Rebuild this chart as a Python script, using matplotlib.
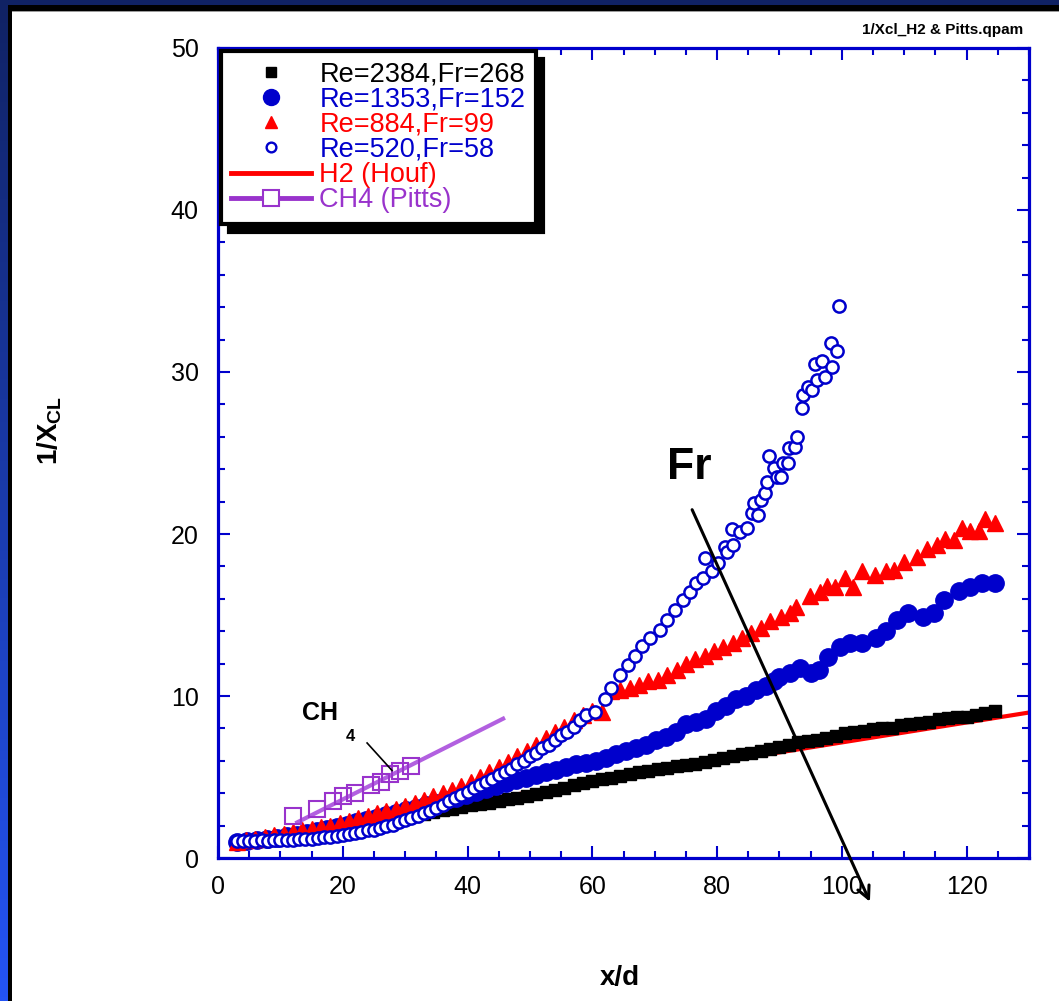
import numpy as np
import matplotlib
matplotlib.use('Agg')
import matplotlib.pyplot as plt
from matplotlib.patches import Rectangle
from matplotlib.lines import Line2D
from matplotlib.ticker import MultipleLocator

plt.rcParams['font.family'] = ['Liberation Sans', 'DejaVu Sans']
plt.rcParams['mathtext.fontset'] = 'custom'
plt.rcParams['mathtext.bf'] = 'Liberation Sans:bold'
plt.rcParams['mathtext.rm'] = 'Liberation Sans:bold'
plt.rcParams['mathtext.default'] = 'bf'

# ---------------- data ----------------
re2384_x = [3.0, 4.5, 6.0, 7.5, 9.0, 10.5, 12.0, 13.5, 15.0, 16.5, 18.0, 19.5, 21.0, 22.5, 24.0, 25.5,
            27.0, 28.5, 30.0, 31.5, 33.0, 34.5, 36.0, 37.5, 39.0, 40.5, 42.0, 43.5, 45.0, 46.5, 48.0,
            49.5, 51.0, 52.5, 54.0, 55.5, 57.0, 58.5, 60.0, 61.5, 63.0, 64.5, 66.0, 67.5, 69.0, 70.5,
            72.0, 73.5, 75.0, 76.5, 78.0, 79.5, 81.0, 82.5, 84.0, 85.5, 87.0, 88.5, 90.0, 91.5, 93.0,
            94.5, 96.0, 97.5, 99.0, 100.5, 102.0, 103.5, 105.0, 106.5, 108.0, 109.5, 111.0, 112.5,
            114.0, 115.5, 117.0, 118.5, 120.0, 121.5, 123.0, 124.5]
re2384_y = [1.00, 1.02, 1.05, 1.08, 1.12, 1.17, 1.22, 1.28, 1.35, 1.42, 1.52, 1.62, 1.75, 1.85, 1.98, 2.10,
            2.22, 2.35, 2.48, 2.60, 2.72, 2.82, 2.95, 3.05, 3.15, 3.25, 3.32, 3.42, 3.50, 3.62, 3.72,
            3.85, 3.95, 4.10, 4.22, 4.35, 4.50, 4.62, 4.78, 4.85, 4.95, 5.05, 5.18, 5.30, 5.40, 5.48,
            5.55, 5.65, 5.75, 5.82, 5.95, 6.05, 6.15, 6.28, 6.40, 6.50, 6.60, 6.75, 6.88, 7.00, 7.15,
            7.22, 7.30, 7.42, 7.55, 7.70, 7.80, 7.85, 7.95, 8.00, 8.05, 8.20, 8.30, 8.35,
            8.40, 8.55, 8.65, 8.70, 8.72, 8.80, 8.95, 9.10]

re1353_x = [3.0, 4.6, 6.2, 7.8, 9.4, 11.0, 12.6, 14.2, 15.8, 17.4, 19.0, 20.6, 22.2, 23.8, 25.4, 27.0,
            28.6, 30.2, 31.8, 33.4, 35.0, 36.6, 38.2, 39.8, 41.4, 43.0, 44.6, 46.2, 47.8, 49.4, 51.0,
            52.6, 54.2, 55.8, 57.4, 59.0, 60.6, 62.2, 63.8, 65.4, 67.0, 68.6, 70.2, 71.8, 73.4, 75.0,
            76.6, 78.2, 79.8, 81.4, 83.0, 84.6, 86.2, 87.8, 89.2, 90.0, 91.7, 93.3, 95.0, 96.3, 97.8,
            99.7, 101.3, 103.2, 105.4, 107.0, 108.9, 110.6, 113.0, 114.7, 116.3, 118.8, 120.5, 122.4, 124.5]
re1353_y = [1.00, 1.05, 1.10, 1.15, 1.25, 1.35, 1.45, 1.55, 1.65, 1.80, 1.90, 2.05, 2.20, 2.35, 2.50, 2.65,
            2.80, 2.95, 3.10, 3.25, 3.40, 3.55, 3.70, 3.90, 4.05, 4.25, 4.45, 4.60, 4.80, 4.95, 5.10,
            5.30, 5.45, 5.60, 5.80, 5.85, 6.00, 6.20, 6.40, 6.60, 6.80, 7.00, 7.30, 7.50, 7.80, 8.30,
            8.40, 8.60, 9.10, 9.40, 9.80, 10.00, 10.40, 10.60, 10.90, 11.20, 11.40, 11.70, 11.40, 11.60, 12.40,
            13.00, 13.30, 13.30, 13.60, 14.00, 14.70, 15.10, 14.90, 15.10, 15.90, 16.50, 16.70, 17.00, 17.00]

re884_x = [3.0, 4.5, 6.0, 7.5, 9.0, 10.5, 12.0, 13.5, 15.0, 16.5, 18.0, 19.5, 21.0, 22.5, 24.0, 25.5,
           27.0, 28.5, 30.0, 31.5, 33.0, 34.5, 36.0, 37.5, 39.0, 40.5, 42.0, 43.5, 45.0, 46.5, 48.0,
           49.5, 51.0, 52.5, 54.0, 55.5, 57.0, 58.5, 60.0, 61.5, 63.0, 64.5, 66.0, 67.5, 69.0, 70.5,
           72.0, 73.5, 75.0, 76.5, 78.0, 79.5, 81.0, 82.5, 84.0, 85.5, 87.0, 88.5, 90.2, 91.7, 92.6,
           94.9, 96.5, 97.6, 98.9, 100.5, 101.8, 103.2, 105.3, 107.0, 108.3, 110.0, 112.0, 113.6,
           115.2, 116.5, 118.0, 119.2, 120.5, 122.0, 123.0, 124.5]
re884_y = [1.00, 1.10, 1.20, 1.30, 1.40, 1.50, 1.60, 1.70, 1.80, 1.90, 2.00, 2.15, 2.30, 2.45, 2.60, 2.75,
           2.90, 3.05, 3.20, 3.40, 3.60, 3.80, 4.00, 4.20, 4.45, 4.70, 5.00, 5.30, 5.60, 5.90, 6.30,
           6.60, 7.00, 7.40, 7.80, 8.10, 8.50, 8.80, 9.10, 9.00, 10.30, 10.40, 10.50, 10.70, 10.90, 11.00,
           11.30, 11.60, 12.00, 12.30, 12.50, 12.80, 13.00, 13.30, 13.60, 13.90, 14.20, 14.60, 14.90, 15.10, 15.50,
           16.20, 16.40, 16.80, 16.70, 17.30, 16.70, 17.70, 17.50, 17.70, 17.80, 18.30, 18.60, 19.10,
           19.30, 19.70, 19.60, 20.40, 20.20, 20.20, 20.90, 20.70]

re520_x = [3, 4, 5, 6, 7, 8, 9, 10, 11, 12, 13, 14, 15, 16, 17, 18, 19, 20, 21, 22, 23, 24, 25, 26, 27,
           28, 29, 30, 31, 32, 33, 34, 35, 36, 37, 38, 39, 40, 41, 42, 43, 44, 45, 46, 47, 48, 49, 50,
           51, 52, 53, 54, 55, 56, 57, 58, 59, 60.4, 62.0, 63.0, 64.4, 65.7, 66.8, 68.0, 69.2, 70.8,
           72.0, 73.2, 74.5, 75.6, 76.6, 77.7, 78.1, 79.2, 80.1, 81.3, 81.6, 82.4, 82.5, 83.7, 84.8,
           85.6, 85.9, 86.5, 87.0, 87.7, 88.0, 88.3, 89.1, 89.6, 90.2, 90.6, 91.3, 91.5, 92.5, 92.8,
           93.6, 93.8, 94.5, 95.2, 95.7, 96.0, 96.8, 97.3, 98.2, 98.5, 99.2, 99.5]
re520_y = [1.05, 1.05, 1.08, 1.05, 1.10, 1.08, 1.10, 1.10, 1.12, 1.10, 1.15, 1.20, 1.18, 1.25, 1.30, 1.30,
           1.38, 1.45, 1.50, 1.55, 1.60, 1.70, 1.75, 1.85, 1.95, 2.05, 2.20, 2.35, 2.50, 2.60, 2.75,
           2.90, 3.10, 3.30, 3.50, 3.70, 3.90, 4.10, 4.30, 4.50, 4.70, 4.90, 5.10, 5.30, 5.50, 5.80,
           6.00, 6.30, 6.50, 6.80, 7.00, 7.30, 7.60, 7.80, 8.10, 8.50, 8.80, 9.00, 9.80, 10.50, 11.30,
           11.90, 12.50, 13.10, 13.60, 14.10, 14.70, 15.30, 15.90, 16.40, 17.00, 17.30, 18.50, 17.70,
           18.20, 19.20, 18.90, 20.30, 19.30, 20.10, 20.40, 21.30, 21.90, 21.20, 22.10, 22.50, 23.20,
           24.80, 24.10, 23.50, 23.50, 24.40, 24.40, 25.30, 25.40, 26.00, 27.80, 28.60, 29.10, 28.90,
           30.50, 29.50, 30.70, 29.70, 31.80, 30.30, 31.30, 34.10]

houf_x = [5.0, 130.0]
houf_y = [1.29, 8.98]

pitts_x = [12.0, 15.9, 18.5, 20.1, 22.0, 24.6, 26.2, 27.6, 29.2, 31.0]
pitts_y = [2.6, 3.0, 3.5, 3.8, 4.0, 4.5, 4.7, 5.2, 5.4, 5.7]
pitts_fit_x = [12.7, 45.7]
pitts_fit_y = [2.2, 8.6]

labels = ['Re=2384,Fr=268', 'Re=1353,Fr=152', 'Re=884,Fr=99', 'Re=520,Fr=58',
          'H2 (Houf)', 'CH4 (Pitts)']

BLUE = '#0000CC'
PURPLE = '#9933CC'
LPURPLE = '#B260E0'

W, H = 1059, 1001
fig = plt.figure(figsize=(W / 100, H / 100), dpi=100)

# background frame
bg = fig.add_axes([0, 0, 1, 1], zorder=-10)
bg.set_xlim(0, W)
bg.set_ylim(0, H)
bg.axis('off')
top = np.array([16, 34, 100]) / 255
bot = np.array([36, 84, 245]) / 255
t = np.linspace(0, 1, 256)[:, None]
grad = (top[None, :] * (1 - t) + bot[None, :] * t)[:, None, :]
bg.imshow(grad, aspect='auto', extent=[0, W, 0, H], origin='upper', zorder=0)
bg.add_patch(Rectangle((8, -5), W, H - 5 + 5, facecolor='black', edgecolor='none', zorder=1))
bg.add_patch(Rectangle((12, -5), W, H - 11 + 5, facecolor='#9a9a9a', edgecolor='none', zorder=2))
bg.add_patch(Rectangle((12, -5), W, H - 12 + 5, facecolor='white', edgecolor='none', zorder=3))

ax = fig.add_axes([218 / W, 143 / H, 811 / W, 810 / H])
ax.set_xlim(0, 130)
ax.set_ylim(0, 50)
ax.patch.set_visible(False)

ax.plot(houf_x, houf_y, color='red', lw=3, zorder=2)
ax.plot(re2384_x, re2384_y, ls='none', marker='s', color='black', ms=8.5, zorder=3)
ax.plot(re1353_x, re1353_y, ls='none', marker='o', color=BLUE, ms=12.5, zorder=4)
ax.plot(re884_x, re884_y, ls='none', marker='^', color='red', ms=11.5, zorder=5)
ax.plot(re520_x, re520_y, ls='none', marker='o', mec=BLUE, mfc='white', ms=8.8, mew=1.8, zorder=6)
ax.plot(pitts_fit_x, pitts_fit_y, color=LPURPLE, lw=3, zorder=7)
ax.plot(pitts_x, pitts_y, ls='none', marker='s', mec=PURPLE, mfc='none', ms=11, mew=1.5, zorder=8)

for s in ax.spines.values():
    s.set_color(BLUE)
    s.set_linewidth(2.3)
ax.xaxis.set_major_locator(MultipleLocator(20))
ax.xaxis.set_minor_locator(MultipleLocator(5))
ax.yaxis.set_major_locator(MultipleLocator(10))
ax.yaxis.set_minor_locator(MultipleLocator(2))
ax.tick_params(which='both', direction='in', top=True, right=True, color=BLUE, width=1.5)
ax.tick_params(which='major', length=8.5)
ax.tick_params(which='minor', length=5)
ax.tick_params(axis='x', which='major', labelsize=18, pad=12)
ax.tick_params(axis='y', which='major', labelsize=18, pad=14)

# annotations
ax.text(16.3, 8.95, 'CH', fontsize=18, fontweight='bold', ha='center', va='center')
ax.text(21.2, 7.5, '4', fontsize=12, fontweight='bold', ha='center', va='center')
ax.plot([23.9, 27.9], [7.1, 5.4], color='black', lw=1.2, zorder=9)
ax.text(75.6, 24.1, 'Fr', fontsize=32, fontweight='bold', ha='center', va='center')
ax.annotate('', xy=(104.5, -2.7), xytext=(76.0, 21.5), annotation_clip=False,
            arrowprops=dict(arrowstyle='->', lw=2.2, color='black', mutation_scale=22,
                            shrinkA=0, shrinkB=0, clip_on=False), zorder=10)

# legend
handles = [
    Line2D([], [], ls='none', marker='s', color='black', ms=7),
    Line2D([], [], ls='none', marker='o', color=BLUE, ms=11.5),
    Line2D([], [], ls='none', marker='^', color='red', ms=9),
    Line2D([], [], ls='none', marker='o', mec=BLUE, mfc='white', ms=7, mew=1.7),
    Line2D([], [], color='red', lw=3.5),
    Line2D([], [], color=PURPLE, lw=3.5, marker='s', mec=PURPLE, mfc='white', ms=12, mew=1.5),
]
leg = ax.legend(handles, labels, loc='upper left', bbox_to_anchor=(3 / 811, 1 - 3 / 810),
                borderaxespad=0, fontsize=19.5, frameon=True, fancybox=False, edgecolor='black',
                handlelength=2.95, handletextpad=0.3, labelspacing=-0.03, borderpad=0.38,
                numpoints=1, framealpha=1,
                shadow={'ox': 5.5, 'oy': -6, 'color': 'black', 'alpha': 1})
leg.get_frame().set_linewidth(3)
for txt, c in zip(leg.get_texts(), ['black', BLUE, 'red', BLUE, 'red', PURPLE]):
    txt.set_color(c)

fig.text(50 / W, 1 - 430 / H, '1/X$_{CL}$', rotation=90, fontsize=20, fontweight='bold',
         ha='center', va='center')
fig.text(620 / W, 1 - 978 / H, 'x/d', fontsize=20, fontweight='bold', ha='center', va='center')
fig.text(1023 / W, 1 - 30 / H, '1/Xcl_H2 & Pitts.qpam', fontsize=11, fontweight='bold',
         ha='right', va='center')

fig.savefig('out.png', dpi=100)
